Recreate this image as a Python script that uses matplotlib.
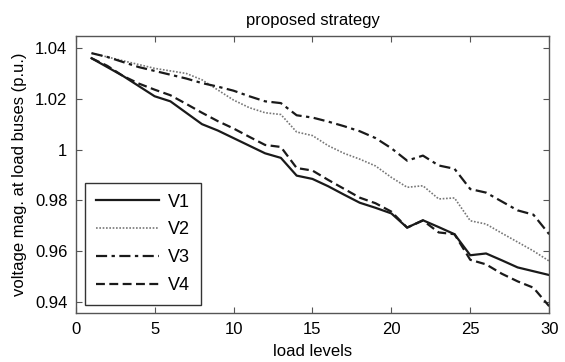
import matplotlib
matplotlib.use("Agg")
import matplotlib.pyplot as plt

plt.rcParams['font.family'] = ['Liberation Sans', 'DejaVu Sans']

load_levels = list(range(1, 31))
V1 = [1.036, 1.0325, 1.029, 1.025, 1.021, 1.019, 1.0145, 1.010, 1.0075, 1.0045,
      1.0015, 0.9985, 0.9967, 0.9897, 0.9884, 0.9855, 0.9822, 0.979, 0.977, 0.9748,
      0.9692, 0.9721, 0.9694, 0.9666, 0.9583, 0.959, 0.9563, 0.9535, 0.952, 0.9505]
V2 = [1.038, 1.0365, 1.035, 1.0335, 1.032, 1.031, 1.030, 1.0275, 1.0235, 1.0195,
      1.0165, 1.0145, 1.0138, 1.0069, 1.0055, 1.0015, 0.9985, 0.9962, 0.9935, 0.989,
      0.9851, 0.9857, 0.9805, 0.9809, 0.9719, 0.9706, 0.967, 0.9635, 0.960, 0.956]
V3 = [1.038, 1.0365, 1.0345, 1.0325, 1.031, 1.0295, 1.028, 1.0262, 1.0248, 1.0232,
      1.021, 1.019, 1.0183, 1.0135, 1.0126, 1.011, 1.0092, 1.0072, 1.0045, 1.0005,
      0.9956, 0.9976, 0.9937, 0.9924, 0.9844, 0.983, 0.9795, 0.976, 0.9743, 0.9666]
V4 = [1.036, 1.033, 1.029, 1.026, 1.0236, 1.0214, 1.018, 1.0145, 1.0112, 1.0083,
      1.005, 1.0018, 1.001, 0.9927, 0.9917, 0.988, 0.9845, 0.981, 0.9788, 0.9755,
      0.9692, 0.972, 0.9673, 0.9666, 0.9565, 0.9547, 0.951, 0.948, 0.9455, 0.9382]

x_ticks = [0, 5, 10, 15, 20, 25, 30]
y_ticks = [0.94, 0.96, 0.98, 1.00, 1.02, 1.04]
y_tick_labels = ['0.94', '0.96', '0.98', '1', '1.02', '1.04']

fig = plt.figure(figsize=(5.65, 3.62), dpi=100)
ax = fig.add_axes([0.134, 0.1345, 0.838, 0.767])

ax.plot(load_levels, V1, color='#1a1a1a', lw=1.6, ls='-', label='V1')
ax.plot(load_levels, V2, color='#777777', lw=1.2, ls=(0, (1, 1)), label='V2')
ax.plot(load_levels, V3, color='#1a1a1a', lw=1.6, ls=(0, (5, 2, 1.5, 2)), label='V3')
ax.plot(load_levels, V4, color='#1a1a1a', lw=1.6, ls=(0, (4, 2)), label='V4')

ax.set_xlim(0, 30)
ax.set_ylim(0.9354, 1.0449)
ax.set_xticks(x_ticks)
ax.set_yticks(y_ticks)
ax.set_yticklabels(y_tick_labels)
ax.tick_params(direction='in', top=True, right=True, labelsize=12, length=4,
               color='#555555', pad=6)
for s in ax.spines.values():
    s.set_color('#555555')
    s.set_linewidth(1.0)

ax.set_title('proposed strategy', fontsize=12, pad=8)
ax.set_xlabel('load levels', fontsize=12, labelpad=5)
ax.set_ylabel('voltage mag. at load buses (p.u.)', fontsize=12, labelpad=6)

leg = ax.legend(loc='lower left', bbox_to_anchor=(0.02, 0.03), fontsize=13,
                fancybox=False, edgecolor='#333333', framealpha=1,
                handlelength=3.5, borderaxespad=0, labelspacing=0.6,
                borderpad=0.6, handletextpad=0.5)
leg.get_frame().set_linewidth(1.0)

fig.savefig('out.png', dpi=100)
